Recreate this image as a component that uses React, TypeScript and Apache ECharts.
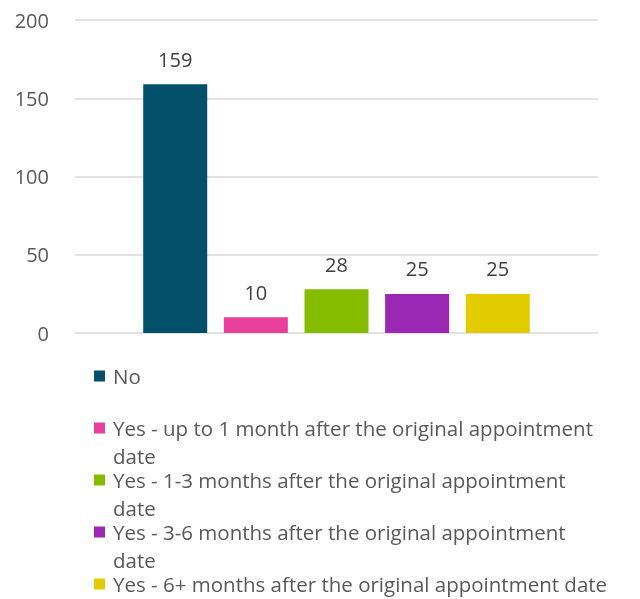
import React, { useEffect, useRef } from "react";
import * as echarts from "echarts";

const seriesNames = [
  "No",
  "Yes - up to 1 month after the original appointment date",
  "Yes - 1-3 months after the original appointment date",
  "Yes - 3-6 months after the original appointment date",
  "Yes - 6+ months after the original appointment date",
];
// legend text split into the lines shown in the picture
const legendFirstLines = [
  "No",
  "Yes - up to 1 month after the original appointment",
  "Yes - 1-3 months after the original appointment",
  "Yes - 3-6 months after the original appointment",
  "Yes - 6+ months after the original appointment date",
];
const legendSecondLines = ["", "date", "date", "date", ""];
const values = [159, 10, 28, 25, 25];
const colors = ["#02506A", "#E8409A", "#86BC00", "#9B27B5", "#E2CC00"];
const categories = [""];
const yTicks = { min: 0, max: 200, interval: 50 };

const FONT = "'Open Sans', sans-serif";
const LEG_FONT = 20.5;
const LINE_H = 22;
const WRAP_STEP = 28;
const LEG_LEFT = 94;
const ICON = 11;
const TEXT_PAD = 3;
const legendCenters = [376, 428, 480, 532, 584];

export default function App() {
  const ref = useRef<HTMLDivElement>(null);
  useEffect(() => {
    if (!ref.current) return;
    const chart = echarts.init(ref.current, null, { renderer: "svg" });
    const legends = seriesNames.map((name, i) => ({
      orient: "vertical",
      left: LEG_LEFT,
      top: legendCenters[i] - LINE_H / 2,
      padding: 0,
      itemWidth: ICON,
      itemHeight: ICON,
      itemGap: 0,
      icon: "rect",
      selectedMode: false,
      data: [name],
      formatter: () => legendFirstLines[i],
      textStyle: {
        fontFamily: FONT,
        fontSize: LEG_FONT,
        color: "#595959",
        lineHeight: LINE_H,
        padding: [0, 0, 0, TEXT_PAD],
      },
    }));
    const secondLines = legendSecondLines
      .map((t, i) => ({ t, i }))
      .filter((d) => d.t)
      .map(({ t, i }) => ({
        type: "text",
        left: LEG_LEFT + ICON + 5 + TEXT_PAD,
        top: legendCenters[i] + WRAP_STEP - LINE_H / 2,
        style: {
          text: t,
          fontFamily: FONT,
          fontSize: LEG_FONT,
          fill: "#595959",
          lineHeight: LINE_H,
        },
      }));
    chart.setOption({
      animation: false,
      color: colors,
      grid: { left: 75, right: 42, top: 20, bottom: 266, containLabel: false },
      legend: legends,
      graphic: secondLines,
      xAxis: {
        type: "category",
        data: categories,
        axisLine: { show: false },
        axisTick: { show: false },
        axisLabel: { show: false },
      },
      yAxis: {
        type: "value",
        min: yTicks.min,
        max: yTicks.max,
        interval: yTicks.interval,
        axisLine: { show: false },
        axisTick: { show: false },
        axisLabel: {
          margin: 26,
          fontFamily: FONT,
          fontSize: 20,
          color: "#595959",
        },
        splitLine: { lineStyle: { color: "#D9D9D9", width: 1.5 } },
      },
      series: seriesNames.map((name, i) => ({
        type: "bar",
        name,
        data: [values[i]],
        barWidth: 64,
        barGap: "26%",
        itemStyle: { color: colors[i] },
        label: {
          show: true,
          position: "top",
          distance: 15,
          fontFamily: FONT,
          fontSize: 20,
          color: "#404040",
        },
      })),
    });
    return () => chart.dispose();
  }, []);
  return (
    <div
      ref={ref}
      style={{ position: "fixed", left: 0, top: 0, width: 640, height: 599 }}
    />
  );
}
